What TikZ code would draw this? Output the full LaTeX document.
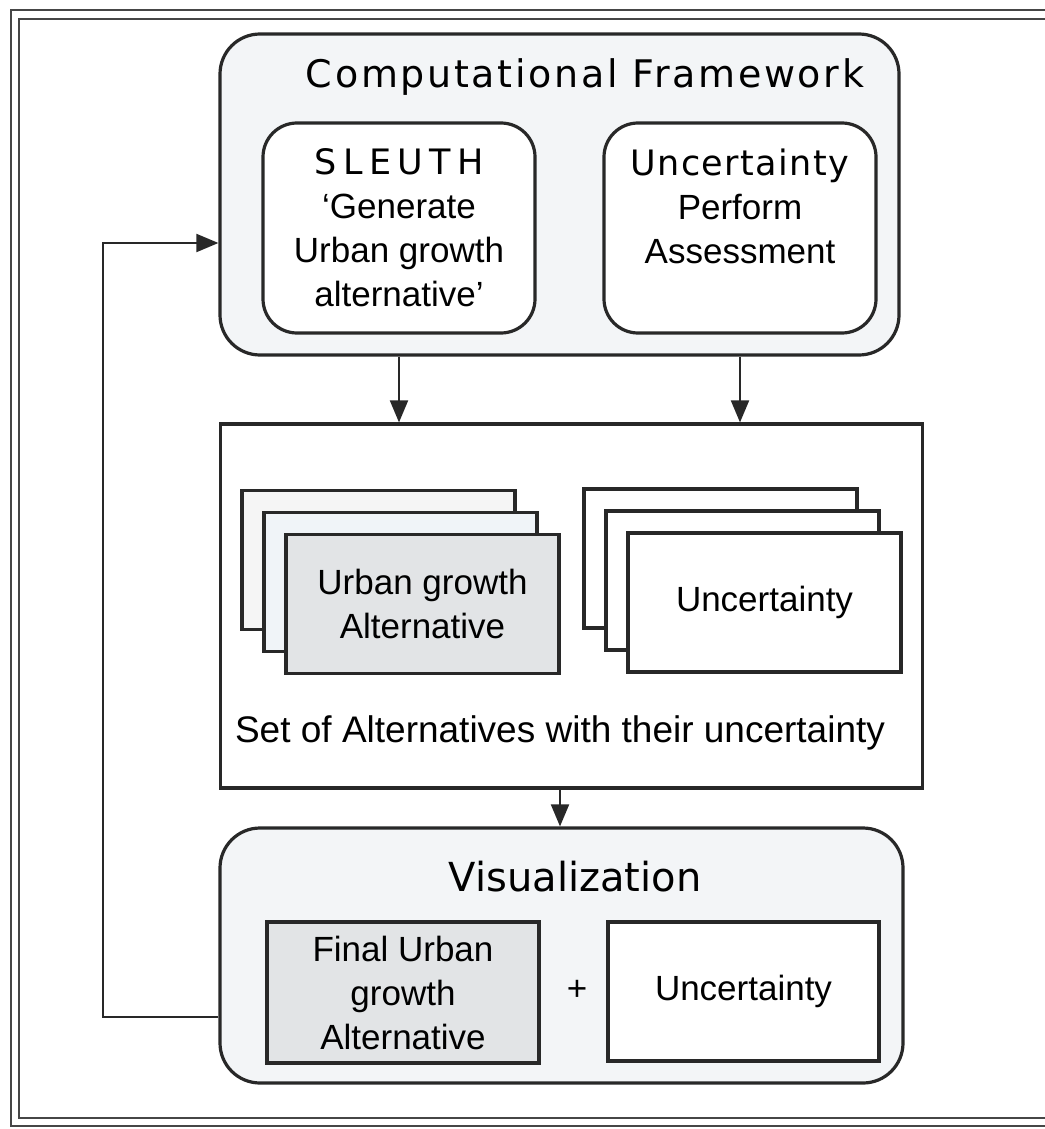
\documentclass[tikz,border=0pt]{standalone}
\usepackage{fontspec}
\setmainfont{Liberation Sans}
\newfontfamily\headfont{DejaVu Sans}
\usetikzlibrary{arrows.meta,positioning,calc}

\definecolor{linegray}{RGB}{40,40,40}
\definecolor{framegray}{RGB}{70,70,70}
\definecolor{panelfill}{RGB}{243,245,247}
\definecolor{altfill}{RGB}{226,228,230}
\definecolor{cardmid}{RGB}{240,244,248}
\definecolor{cardback}{RGB}{245,245,245}

\newcommand{\bodyfont}{\fontsize{17.5}{22}\selectfont}
\newcommand{\titlefont}{\headfont\fontsize{19}{23}\selectfont}

\begin{document}
\begin{tikzpicture}[x=0.5pt,y=-0.5pt,
  panel/.style={draw=linegray,line width=1.6pt,fill=panelfill,rounded corners=20pt},
  task/.style={draw=linegray,line width=1.6pt,fill=white,rounded corners=17pt,
    minimum width=136pt,minimum height=105pt,align=center,font=\bodyfont},
  card/.style={draw=linegray,line width=1.6pt,fill=white,
    minimum width=136.5pt,minimum height=69.5pt,align=center,font=\bodyfont},
  arr/.style={draw=linegray,line width=1pt,-{Triangle[length=11pt,width=9pt]}}]
  \useasboundingbox (0,0) rectangle (1044,1129);

  % double frame, open to the right
  \draw[framegray,line width=1.3pt] (11,10) rectangle (1090,1126);
  \draw[framegray,line width=1.3pt] (19,19) rectangle (1080,1118);

  % computational framework
  \node[panel,minimum width=339.5pt,minimum height=160.5pt] (comp) at (559.5,194.5) {};
  \node[font=\titlefont\addfontfeature{LetterSpace=7}] (comptitle) at (585,77) {Computational Framework};
  \node[task] (sleuth) at (399,228)
    {{\headfont\addfontfeature{LetterSpace=18}SLEUTH}\\`Generate\\Urban growth\\alternative'};
  \node[task] (unc) at (740,228)
    {{\headfont\addfontfeature{LetterSpace=4}Uncertainty}\\Perform\\Assessment\\\mbox{}};

  % set of alternatives
  \node[draw=linegray,line width=1.6pt,fill=white,minimum width=351pt,minimum height=182pt] (setbox) at (571.5,606) {};
  \node[card,fill=cardback] (altback) at (378.5,560) {};
  \node[card,fill=cardmid] (altmid) at (400.5,582) {};
  \node[card,fill=altfill] (altfront) at (422.5,604) {Urban growth\\Alternative};
  \node[card] (uncback) at (720.5,558.5) {};
  \node[card] (uncmid) at (742.5,580.5) {};
  \node[card] (uncfront) at (764.5,602.5) {Uncertainty};
  \node[font=\fontsize{18.5}{22}\selectfont] (setlabel) at (560,733) {Set of Alternatives with their uncertainty};

  % visualization
  \node[panel,minimum width=341.5pt,minimum height=127.5pt] (vis) at (561.5,955.5) {};
  \node[font=\headfont\fontsize{20}{24}\selectfont] (vistitle) at (575,877) {Visualization};
  \node[card,fill=altfill,minimum width=136pt,minimum height=70.5pt] (final) at (403,992.5) {Final Urban\\growth\\Alternative};
  \node[card,minimum width=135.5pt] (uncfinal) at (743.5,991.5) {Uncertainty};
  \node[font=\bodyfont] (plus) at (577,990) {+};

  % arrows
  \draw[arr] (comp.south -| sleuth.center) -- (setbox.north -| sleuth.center);
  \draw[arr] (comp.south -| unc.center) -- (setbox.north -| unc.center);
  \draw[arr] ([xshift=-5.75pt]setbox.south) -- ([xshift=-5.75pt]setbox.south |- vis.north);

  \coordinate (backbot) at (103,1017);
  \coordinate (backtop) at (103,243);
  \draw[arr] (vis.west |- backbot) -- (backbot) -- (backtop) -- (comp.west |- backtop);
\end{tikzpicture}
\end{document}
